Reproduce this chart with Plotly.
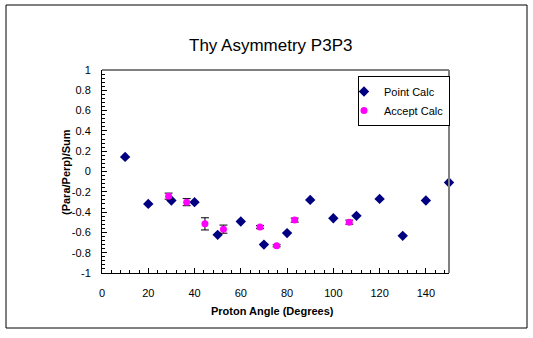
import plotly.graph_objects as go

# Data
point_x = [10, 20, 30, 40, 50, 60, 70, 80, 90, 100, 110, 120, 130, 140, 150]
point_y = [0.144, -0.319, -0.286, -0.302, -0.624, -0.493, -0.72, -0.607, -0.28,
           -0.46, -0.437, -0.27, -0.634, -0.286, -0.109]
accept_x = [28.8, 36.6, 44.5, 52.5, 68.3, 75.5, 83.3, 106.9]
accept_y = [-0.243, -0.302, -0.516, -0.568, -0.548, -0.732, -0.479, -0.499]
accept_err = [0.03, 0.035, 0.06, 0.04, 0.015, 0.01, 0.02, 0.02]

y_tickvals = [1, 0.8, 0.6, 0.4, 0.2, 0, -0.2, -0.4, -0.6, -0.8, -1]
y_ticktext = ["1", "0.8", "0.6", "0.4", "0.2", "0", "-0.2", "-0.4", "-0.6", "-0.8", "-1"]
x_tickvals = [0, 20, 40, 60, 80, 100, 120, 140]

FONT = "Liberation Sans, Arial, sans-serif"

fig = go.Figure()
fig.add_trace(go.Scatter(
    x=point_x, y=point_y, mode="markers", name="Point Calc",
    marker=dict(symbol="diamond", size=8, color="#000080"),
    cliponaxis=False,
))
fig.add_trace(go.Scatter(
    x=accept_x, y=accept_y, mode="markers", name="Accept Calc",
    marker=dict(symbol="circle", size=7, color="#FF00FF"),
    error_y=dict(type="data", array=accept_err, visible=True,
                 color="black", thickness=1, width=4),
    cliponaxis=False,
))

W, H = 533, 338
L, R, T, B = 102, 449, 70, 273
pw, ph = R - L, B - T

def px(xp):
    return (xp - L) / pw

def py(yp):
    return (B - yp) / ph

fig.update_layout(
    width=W, height=H,
    margin=dict(l=L, r=W - R, t=T, b=H - B),
    paper_bgcolor="white", plot_bgcolor="white",
    font=dict(family=FONT, size=11, color="black"),
    showlegend=True,
    legend=dict(
        x=px(358), y=py(76), xanchor="left", yanchor="top",
        bordercolor="black", borderwidth=1, bgcolor="white",
        font=dict(family=FONT, size=11, color="black"),
        tracegroupgap=0, itemwidth=30, itemsizing="trace",
        indentation=-15,
    ),
    xaxis=dict(
        range=[0, 150], tickvals=x_tickvals, showgrid=False, zeroline=False,
        showline=True, linecolor="black", linewidth=1,
        ticks="inside", ticklen=5, tickcolor="black",
        minor=dict(dtick=4, tick0=0, ticks="inside", ticklen=3, tickcolor="black"),
        tickfont=dict(family=FONT, size=11),
        ticklabelstandoff=10,
    ),
    yaxis=dict(
        range=[-1, 1], tickvals=y_tickvals, ticktext=y_ticktext,
        showgrid=False, zeroline=False,
        showline=True, linecolor="black", linewidth=1,
        ticks="inside", ticklen=5, tickcolor="black",
        minor=dict(dtick=0.04, tick0=0, ticks="inside", ticklen=3, tickcolor="black"),
        tickfont=dict(family=FONT, size=11),
        ticklabelstandoff=8,
    ),
    shapes=[
        # gray top and right plot border
        dict(type="line", xref="paper", yref="paper", x0=0, x1=1, y0=1, y1=1,
             line=dict(color="#808080", width=2)),
        dict(type="line", xref="paper", yref="paper", x0=1, x1=1, y0=0, y1=1,
             line=dict(color="#808080", width=2)),
        # outer chart border
        dict(type="rect", xref="paper", yref="paper",
             x0=px(6), x1=px(527), y0=py(328), y1=py(5),
             line=dict(color="black", width=1)),
    ],
    annotations=[
        dict(text="Thy Asymmetry P3P3", xref="paper", yref="paper",
             x=px(270), y=py(46), showarrow=False,
             xanchor="center", yanchor="middle",
             font=dict(family=FONT, size=17, color="black")),
        dict(text="<b>Proton Angle (Degrees)</b>", xref="paper", yref="paper",
             x=px(272), y=py(311), showarrow=False,
             xanchor="center", yanchor="middle",
             font=dict(family=FONT, size=11, color="black")),
        dict(text="<b>(Para/Perp)/Sum</b>", xref="paper", yref="paper",
             x=px(66), y=py(172), showarrow=False, textangle=-90,
             xanchor="center", yanchor="middle",
             font=dict(family=FONT, size=11, color="black")),
    ],
)

fig.write_html("out.html")
